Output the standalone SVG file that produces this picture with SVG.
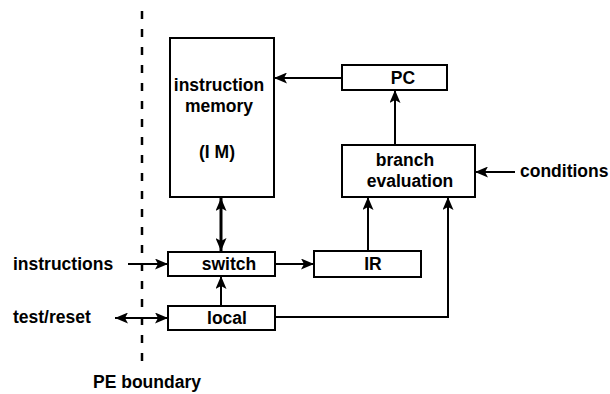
<svg xmlns="http://www.w3.org/2000/svg" width="610" height="394" viewBox="0 0 610 394">
<defs>
<marker id="ah" viewBox="0 0 13 11" refX="13" refY="5.5" markerWidth="13" markerHeight="11" markerUnits="userSpaceOnUse" orient="auto-start-reverse">
<path d="M0,0 L13,5.5 L0,11 L3,5.5 z" fill="#000"/>
</marker>
</defs>
<style>
.box{fill:#fff;stroke:#000;stroke-width:2}
.t{font-family:"Liberation Sans",Arial,sans-serif;font-weight:bold;font-size:17.5px;fill:#000}
.m{text-anchor:middle}
.c{fill:none;stroke:#000;stroke-width:2}
.thick{stroke-width:3}
</style>
<rect width="610" height="394" fill="#fff"/>
<g id="boundary">
<line x1="142" y1="11" x2="142" y2="370" stroke="#000" stroke-width="2.5" stroke-dasharray="8,10"/>
<text class="t" x="93" y="388">PE boundary</text>
</g>
<g id="connectors">
<line class="c" x1="342" y1="78" x2="274" y2="78" marker-end="url(#ah)"/>
<line class="c" x1="395" y1="145" x2="395" y2="90" marker-end="url(#ah)"/>
<line class="c" x1="515" y1="172" x2="475" y2="172" marker-end="url(#ah)"/>
<line class="c thick" x1="221" y1="198" x2="221" y2="251" marker-start="url(#ah)" marker-end="url(#ah)"/>
<line class="c" x1="128" y1="264" x2="168" y2="264" marker-end="url(#ah)"/>
<line class="c" x1="115" y1="318" x2="168" y2="318" marker-start="url(#ah)" marker-end="url(#ah)"/>
<line class="c" x1="221" y1="306" x2="221" y2="276" marker-end="url(#ah)"/>
<line class="c" x1="275" y1="264" x2="314" y2="264" marker-end="url(#ah)"/>
<line class="c" x1="368" y1="251" x2="368" y2="197" marker-end="url(#ah)"/>
<polyline class="c" points="275,317 448,317 448,197" marker-end="url(#ah)"/>
</g>
<g id="im">
<rect class="box" x="170" y="38" width="104" height="159"/>
<text class="t m" x="219" y="91">instruction</text>
<text class="t m" x="219" y="112">memory</text>
<text class="t m" x="217" y="158">(I M)</text>
</g>
<g id="pc">
<rect class="box" x="342" y="65" width="105" height="25"/>
<text class="t m" x="403" y="84">PC</text>
</g>
<g id="branch">
<rect class="box" x="342" y="145" width="133" height="52"/>
<text class="t m" x="405" y="166">branch</text>
<text class="t m" x="410" y="187">evaluation</text>
</g>
<g id="conditions">
<text class="t" x="520" y="177">conditions</text>
</g>
<g id="switch">
<rect class="box" x="168" y="252" width="107" height="24"/>
<text class="t m" x="229" y="270">switch</text>
</g>
<g id="local">
<rect class="box" x="168" y="306" width="107" height="24"/>
<text class="t m" x="227" y="324">local</text>
</g>
<g id="ir">
<rect class="box" x="314" y="251" width="107" height="26"/>
<text class="t m" x="373" y="270">IR</text>
</g>
<g id="inputs">
<text class="t" x="13" y="270">instructions</text>
<text class="t" x="13" y="323">test/reset</text>
</g>
</svg>
